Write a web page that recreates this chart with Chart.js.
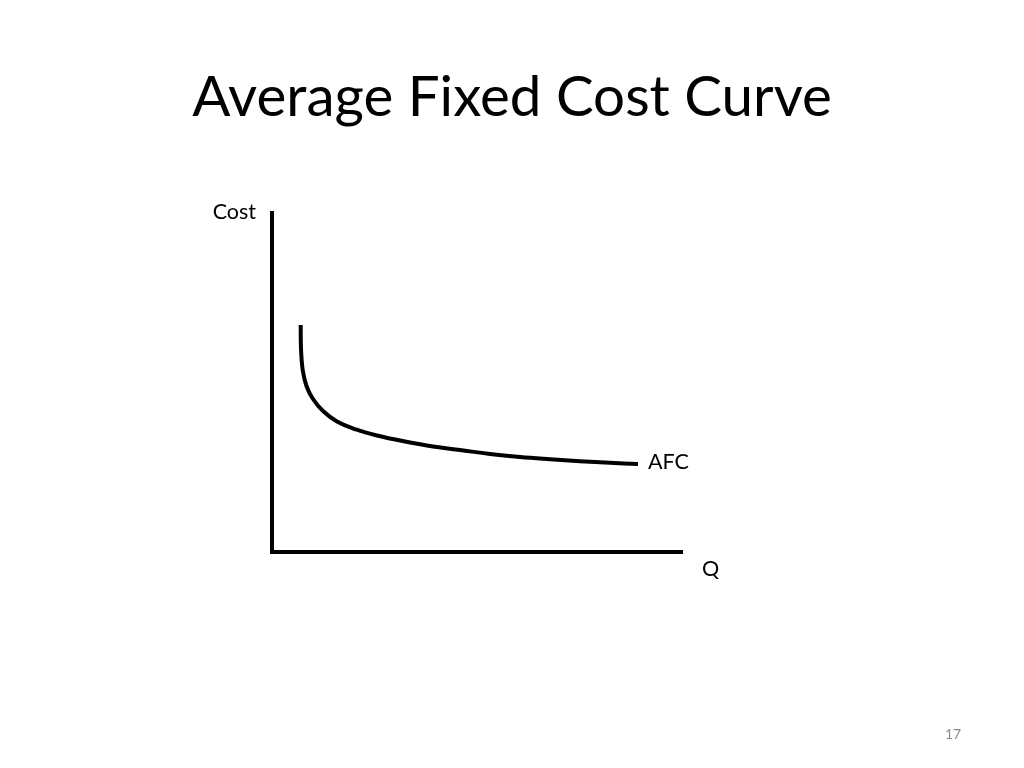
<!DOCTYPE html>
<html>
<head>
<meta charset="utf-8">
<script src="https://cdn.jsdelivr.net/npm/chart.js@4"></script>
<style>
  html, body { margin: 0; padding: 0; background: #ffffff; }
  canvas { display: block; }
</style>
</head>
<body>
<canvas id="c" width="1024" height="768"></canvas>
<script>
// Quantity (x) and average fixed cost (y) (arbitrary units 0-10)
const quantity = [0.700, 0.707, 0.749, 0.841, 1.000, 1.244, 1.585, 2.049, 2.561, 3.244, 3.927, 4.585, 5.317, 6.049, 6.780, 7.512, 8.244, 8.927];
const afc      = [6.696, 6.018, 5.369, 4.897, 4.513, 4.159, 3.850, 3.614, 3.437, 3.260, 3.112, 3.009, 2.891, 2.802, 2.735, 2.676, 2.631, 2.596];
const titleText = 'Average Fixed Cost Curve';
const yAxisLabel = 'Cost';
const xAxisLabel = 'Q';
const curveLabel = 'AFC';
const pageNumber = '17';

const FONT = 'Lato, "Open Sans", "Liberation Sans", sans-serif';

const labelsPlugin = {
  id: 'labels',
  afterDraw(chart) {
    const ctx = chart.ctx;
    const a = chart.chartArea;
    const xs = chart.scales.x, ys = chart.scales.y;
    ctx.save();
    ctx.fillStyle = '#000000';
    // slide title
    ctx.font = '56.5px ' + FONT;
    ctx.textAlign = 'center';
    ctx.textBaseline = 'alphabetic';
    ctx.fillText(titleText, 512, 116);
    ctx.font = '21.5px ' + FONT;
    ctx.textBaseline = 'middle';
    // y-axis label at top-left of the vertical axis
    ctx.textAlign = 'right';
    ctx.fillText(yAxisLabel, a.left - 16, a.top - 1);
    // x-axis label below right end of horizontal axis
    ctx.textAlign = 'left';
    ctx.fillText(xAxisLabel, a.right + 20, a.bottom + 17);
    // curve label next to last point
    const n = quantity.length - 1;
    ctx.fillText(curveLabel, xs.getPixelForValue(quantity[n]) + 10, ys.getPixelForValue(afc[n]) - 2);
    // page number
    ctx.fillStyle = '#8c8c8c';
    ctx.font = '14px ' + FONT;
    ctx.textAlign = 'center';
    ctx.fillText(pageNumber, 953, 734);
    ctx.restore();
  }
};

new Chart(document.getElementById('c'), {
  type: 'line',
  data: {
    datasets: [{
      label: curveLabel,
      data: quantity.map((q, i) => ({ x: q, y: afc[i] })),
      borderColor: '#000000',
      borderWidth: 4,
      pointRadius: 0,
      fill: false,
      tension: 0.4,
      borderCapStyle: 'butt'
    }]
  },
  options: {
    responsive: false,
    animation: false,
    layout: { padding: { left: 272, right: 342, top: 213, bottom: 216 } },
    plugins: {
      legend: { display: false },
      tooltip: { enabled: false },
      title: { display: false }
    },
    scales: {
      x: {
        type: 'linear', min: 0, max: 10,
        grid: { display: false, drawTicks: false },
        ticks: { display: false },
        border: { display: true, color: '#000000', width: 4 }
      },
      y: {
        type: 'linear', min: 0, max: 10,
        grid: { display: false, drawTicks: false },
        ticks: { display: false },
        border: { display: true, color: '#000000', width: 4 }
      }
    }
  },
  plugins: [labelsPlugin]
});
</script>
</body>
</html>
